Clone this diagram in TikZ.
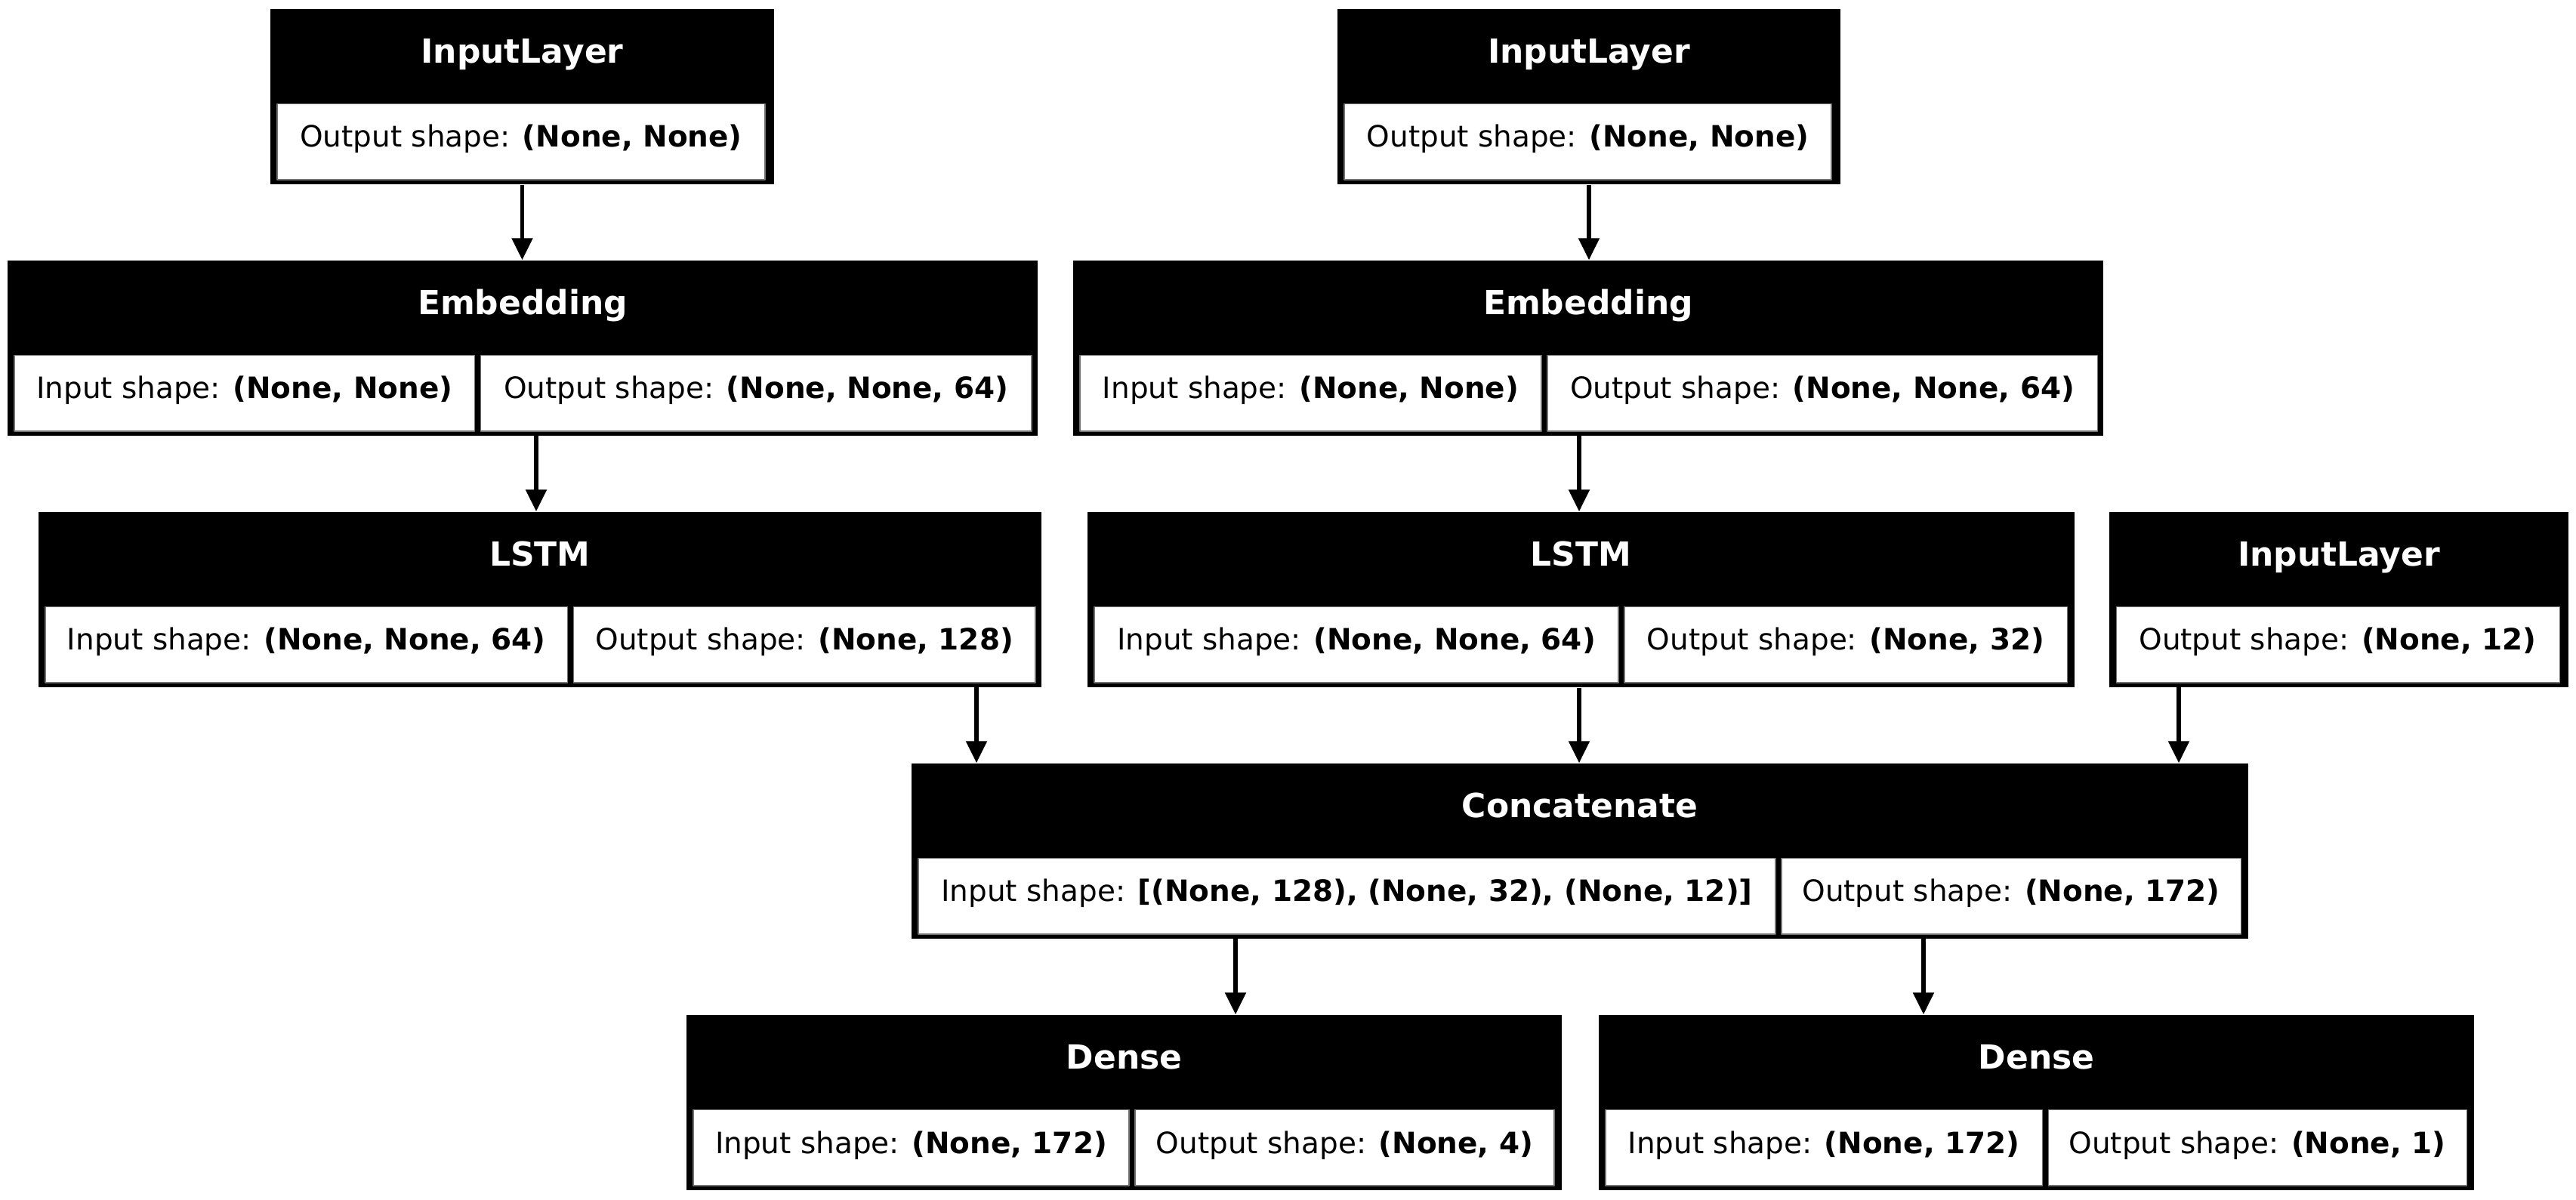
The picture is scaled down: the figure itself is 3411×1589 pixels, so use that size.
\documentclass[tikz,border=0pt]{standalone}
\usepackage{fontspec}
\setmainfont{DejaVu Sans}
\usetikzlibrary{arrows.meta,fit}
\newcommand\headfont{\fontsize{12.5pt}{15pt}\selectfont\bfseries}
\newcommand\bodyfont{\fontsize{11.07pt}{13pt}\selectfont}
\begin{document}
\begin{tikzpicture}[x=0.01cm, y=-0.01cm, line join=round,
  layer/.style={fill=black, inner sep=0pt},
  cell/.style={fill=white, draw=black!55, line width=0.3pt, inner sep=0pt},
  head/.style={text=white, font=\headfont, anchor=base, inner sep=0pt},
  txt/.style={font=\bodyfont, anchor=base, inner sep=0pt},
  arr/.style={-{Triangle[length=8.25pt,width=7.7pt]}, line width=1.45pt}]
\useasboundingbox (0,0) rectangle (3411,1589);
% first inputs
\node[layer, fit={(358,12) (1025,244)}] (ilA) {};
\node[cell, fit={(367,137.5) (1013,238)}] (ilA-o) {};
\node[head] (ilA-t) at (691.5,83.5) {InputLayer};
\node[txt] (ilA-os) at (690,195) {Output shape: \textbf{(None, None)}};
\node[layer, fit={(1771,12) (2437,244)}] (ilB) {};
\node[cell, fit={(1780,137.5) (2425,238)}] (ilB-o) {};
\node[head] (ilB-t) at (2104,83.5) {InputLayer};
\node[txt] (ilB-os) at (2102.5,195) {Output shape: \textbf{(None, None)}};
% embeddings
\node[layer, fit={(10,345) (1374,577)}] (embA) {};
\node[cell, fit={(19,470.5) (628.5,571)}] (embA-i) {};
\node[cell, fit={(636.5,470.5) (1366,571)}] (embA-o) {};
\node[head] (embA-t) at (692,416.5) {Embedding};
\node[txt] (embA-is) at (323.75,528) {Input shape: \textbf{(None, None)}};
\node[txt] (embA-os) at (1001.25,528) {Output shape: \textbf{(None, None, 64)}};
\node[layer, fit={(1421,345) (2785,577)}] (embB) {};
\node[cell, fit={(1430,470.5) (2041,571)}] (embB-i) {};
\node[cell, fit={(2049,470.5) (2777,571)}] (embB-o) {};
\node[head] (embB-t) at (2103,416.5) {Embedding};
\node[txt] (embB-is) at (1735.5,528) {Input shape: \textbf{(None, None)}};
\node[txt] (embB-os) at (2413,528) {Output shape: \textbf{(None, None, 64)}};
% lstm and third input
\node[layer, fit={(51,678) (1379,910)}] (lstmA) {};
\node[cell, fit={(60,803.5) (751.5,904)}] (lstmA-i) {};
\node[cell, fit={(759.5,803.5) (1371,904)}] (lstmA-o) {};
\node[head] (lstmA-t) at (715,749.5) {LSTM};
\node[txt] (lstmA-is) at (405.75,861) {Input shape: \textbf{(None, None, 64)}};
\node[txt] (lstmA-os) at (1065.25,861) {Output shape: \textbf{(None, 128)}};
\node[layer, fit={(1440,678) (2747,910)}] (lstmB) {};
\node[cell, fit={(1449,803.5) (2143,904)}] (lstmB-i) {};
\node[cell, fit={(2151,803.5) (2737,904)}] (lstmB-o) {};
\node[head] (lstmB-t) at (2093.5,749.5) {LSTM};
\node[txt] (lstmB-is) at (1796,861) {Input shape: \textbf{(None, None, 64)}};
\node[txt] (lstmB-os) at (2444,861) {Output shape: \textbf{(None, 32)}};
\node[layer, fit={(2793,678) (3401,910)}] (ilC) {};
\node[cell, fit={(2802,803.5) (3389,904)}] (ilC-o) {};
\node[head] (ilC-t) at (3097,749.5) {InputLayer};
\node[txt] (ilC-os) at (3095.5,861) {Output shape: \textbf{(None, 12)}};
% concatenate
\node[layer, fit={(1207,1011) (2977,1243)}] (cat) {};
\node[cell, fit={(1216,1136.5) (2351,1237)}] (cat-i) {};
\node[cell, fit={(2359,1136.5) (2967,1237)}] (cat-o) {};
\node[head] (cat-t) at (2092,1082.5) {Concatenate};
\node[txt] (cat-is) at (1783.5,1194) {Input shape: \textbf{[(None, 128), (None, 32), (None, 12)]}};
\node[txt] (cat-os) at (2663,1194) {Output shape: \textbf{(None, 172)}};
% outputs
\node[layer, fit={(909,1344) (2068,1576)}] (dA) {};
\node[cell, fit={(918,1469.5) (1495,1570)}] (dA-i) {};
\node[cell, fit={(1503,1469.5) (2058,1570)}] (dA-o) {};
\node[head] (dA-t) at (1488.5,1415.5) {Dense};
\node[txt] (dA-is) at (1206.5,1527) {Input shape: \textbf{(None, 172)}};
\node[txt] (dA-os) at (1780.5,1527) {Output shape: \textbf{(None, 4)}};
\node[layer, fit={(2117,1344) (3276,1576)}] (dB) {};
\node[cell, fit={(2126,1469.5) (2704,1570)}] (dB-i) {};
\node[cell, fit={(2712,1469.5) (3266,1570)}] (dB-o) {};
\node[head] (dB-t) at (2696.5,1415.5) {Dense};
\node[txt] (dB-is) at (2415,1527) {Input shape: \textbf{(None, 172)}};
\node[txt] (dB-os) at (2989,1527) {Output shape: \textbf{(None, 1)}};
% ports and edges
\coordinate (embA-p) at (710,577);
\coordinate (embB-p) at (2091,577);
\coordinate (lstmA-p) at (1293,910);
\coordinate (ilC-p) at (2885,910);
\coordinate (cat-pA) at (1636,1243);
\coordinate (cat-pB) at (2547,1243);
\draw[arr] (ilA.south) -- (ilA.south |- embA.north);
\draw[arr] (ilB.south) -- (ilB.south |- embB.north);
\draw[arr] (embA-p) -- (embA-p |- lstmA.north);
\draw[arr] (embB-p) -- (embB-p |- lstmB.north);
\draw[arr] (lstmA-p) -- (lstmA-p |- cat.north);
\draw[arr] (embB-p |- lstmB.south) -- (embB-p |- cat.north);
\draw[arr] (ilC-p) -- (ilC-p |- cat.north);
\draw[arr] (cat-pA) -- (cat-pA |- dA.north);
\draw[arr] (cat-pB) -- (cat-pB |- dB.north);
\end{tikzpicture}
\end{document}
